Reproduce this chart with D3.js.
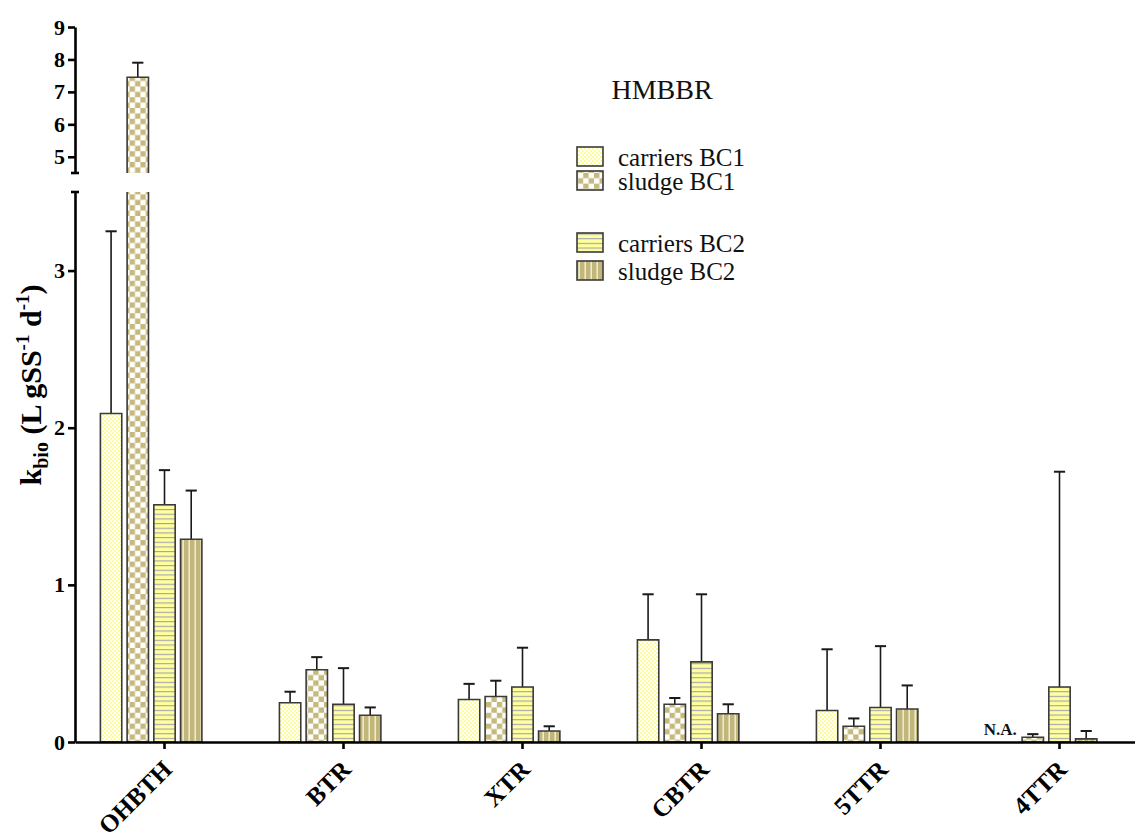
<!DOCTYPE html>
<html>
<head>
<meta charset="utf-8">
<script src="https://cdn.jsdelivr.net/npm/d3@7"></script>
<style>
  html, body { margin: 0; padding: 0; background: #fff; }
  svg text { font-family: "Liberation Serif", "Times New Roman", Times, serif; }
</style>
</head>
<body>
<svg id="chart" width="1135" height="835"></svg>
<script>
// ---- data -------------------------------------------------------------
const categories = ["OHBTH", "BTR", "XTR", "CBTR", "5TTR", "4TTR"];
const seriesNames = ["carriers BC1", "sludge BC1", "carriers BC2", "sludge BC2"];

// mean kbio values (L gSS-1 d-1); null = not available
const carriersBC1 = [2.09, 0.25, 0.27, 0.65, 0.20, null];
const sludgeBC1   = [7.45, 0.46, 0.29, 0.24, 0.10, 0.03];
const carriersBC2 = [1.51, 0.24, 0.35, 0.51, 0.22, 0.35];
const sludgeBC2   = [1.29, 0.17, 0.07, 0.18, 0.21, 0.02];

// standard deviations (upper error bars)
const carriersBC1Err = [1.16, 0.07, 0.10, 0.29, 0.39, null];
const sludgeBC1Err   = [0.45, 0.08, 0.10, 0.04, 0.05, 0.02];
const carriersBC2Err = [0.22, 0.23, 0.25, 0.43, 0.39, 1.37];
const sludgeBC2Err   = [0.31, 0.05, 0.03, 0.06, 0.15, 0.05];

// broken y axis: lower and upper segments
const lowerDomain = [0, 3.5];
const upperDomain = [4.5, 9];
const lowerTicks = [0, 1, 2, 3];
const upperTicks = [5, 6, 7, 8, 9];

const chartTitle = "HMBBR";
const naLabel = "N.A.";

// ---- layout -------------------------------------------------------------
const svg = d3.select("#chart");
const axisX = 75;
const baseY = 742;
const lowerTopY = 192;
const upperBottomY = 173;
const upperTopY = 27;

const means = [carriersBC1, sludgeBC1, carriersBC2, sludgeBC2];
const errs = [carriersBC1Err, sludgeBC1Err, carriersBC2Err, sludgeBC2Err];
const patternIds = ["pat-c1", "pat-s1", "pat-c2", "pat-s2"];

const yLow = d3.scaleLinear().domain(lowerDomain).range([baseY, lowerTopY]);
const yHigh = d3.scaleLinear().domain(upperDomain).range([upperBottomY, upperTopY]);

const x = d3.scaleBand()
  .domain(categories)
  .range([axisX, axisX + 6 * 179])
  .paddingInner(0.254)
  .paddingOuter(0.127);

// five slots per group, the third one centred on the tick; the fifth stays empty
const xs = d3.scaleBand()
  .domain(d3.range(5))
  .range([0, x.bandwidth()])
  .paddingInner(0.2)
  .paddingOuter(0.1);

// ---- fill patterns ------------------------------------------------------
const defs = svg.append("defs");

// carriers BC1: fine pale-yellow dots on white
const p1 = defs.append("pattern").attr("id", patternIds[0])
  .attr("patternUnits", "userSpaceOnUse").attr("width", 4).attr("height", 4);
p1.append("rect").attr("width", 4).attr("height", 4).attr("fill", "#ffffff");
p1.append("rect").attr("x", 0).attr("y", 0).attr("width", 2).attr("height", 2).attr("fill", "#fdfd9c");
p1.append("rect").attr("x", 2).attr("y", 2).attr("width", 2).attr("height", 2).attr("fill", "#fdfd9c");

// sludge BC1: khaki checkerboard
const c = 5.4;
const p2 = defs.append("pattern").attr("id", patternIds[1])
  .attr("patternUnits", "userSpaceOnUse").attr("width", 2 * c).attr("height", 2 * c);
p2.append("rect").attr("width", 2 * c).attr("height", 2 * c).attr("fill", "#ffffff");
p2.append("rect").attr("x", 0).attr("y", 0).attr("width", c).attr("height", c).attr("fill", "#c6b97e");
p2.append("rect").attr("x", c).attr("y", c).attr("width", c).attr("height", c).attr("fill", "#c6b97e");

// carriers BC2: yellow with thin horizontal grey lines
const hp = 4.67;
const p3 = defs.append("pattern").attr("id", patternIds[2])
  .attr("patternUnits", "userSpaceOnUse").attr("width", 10).attr("height", hp);
p3.append("rect").attr("width", 10).attr("height", hp).attr("fill", "#ffff9c");
p3.append("rect").attr("x", 0).attr("y", 0).attr("width", 10).attr("height", 1.1).attr("fill", "#a3a2b4");

// sludge BC2: khaki with thin vertical light lines
const p4 = defs.append("pattern").attr("id", patternIds[3])
  .attr("patternUnits", "userSpaceOnUse").attr("width", 6).attr("height", 10);
p4.append("rect").attr("width", 6).attr("height", 10).attr("fill", "#c2b77a");
p4.append("rect").attr("x", 2.5).attr("y", 0).attr("width", 1.4).attr("height", 10).attr("fill", "#f3efdc");

// ---- bars ---------------------------------------------------------------
// split a bar into the pieces that fall on each axis segment
function pieces(v) {
  if (v <= lowerDomain[1]) {
    return [{ top: yLow(v), bottom: yLow(0), openTop: false, openBottom: false }];
  }
  return [
    { top: yLow(lowerDomain[1]), bottom: yLow(0), openTop: true, openBottom: false },
    { top: yHigh(v), bottom: yHigh(upperDomain[0]), openTop: false, openBottom: true }
  ];
}
function valueY(v) {
  return v <= lowerDomain[1] ? yLow(v) : yHigh(v);
}

const barData = [];
categories.forEach((cat, ci) => {
  means.forEach((arr, si) => {
    barData.push({ cat, si, v: arr[ci], e: errs[si][ci] });
  });
});

const gBars = svg.append("g");
const barStroke = "#3a3a3a";

barData.forEach(d => {
  const x0 = x(d.cat) + xs(d.si);
  const w = xs.bandwidth();
  if (d.v == null) {
    gBars.append("text")
      .attr("x", x0 + w)
      .attr("y", baseY - 7)
      .attr("text-anchor", "end")
      .attr("font-size", 17)
      .attr("font-weight", "bold")
      .attr("fill", "#111")
      .text(naLabel);
    return;
  }
  // error bar (upper only) drawn first so the bar sits on top of it
  if (d.e != null) {
    const yTop = valueY(d.v + d.e);
    const yBar = valueY(d.v);
    gBars.append("line")
      .attr("x1", x0 + w / 2).attr("x2", x0 + w / 2)
      .attr("y1", yBar).attr("y2", yTop)
      .attr("stroke", "#1a1a1a").attr("stroke-width", 1.6);
    gBars.append("line")
      .attr("x1", x0 + w / 2 - 5.6).attr("x2", x0 + w / 2 + 5.6)
      .attr("y1", yTop).attr("y2", yTop)
      .attr("stroke", "#1a1a1a").attr("stroke-width", 2);
  }
  pieces(d.v).forEach(p => {
    gBars.append("rect")
      .attr("x", x0).attr("y", p.top)
      .attr("width", w).attr("height", p.bottom - p.top)
      .attr("fill", `url(#${patternIds[d.si]})`);
    const path = d3.path();
    // left side, top, right side, bottom — open edges skipped at the break
    path.moveTo(x0, p.bottom);
    path.lineTo(x0, p.top);
    if (p.openTop) path.moveTo(x0 + w, p.top); else path.lineTo(x0 + w, p.top);
    path.lineTo(x0 + w, p.bottom);
    if (!p.openBottom) path.lineTo(x0, p.bottom);
    gBars.append("path")
      .attr("d", path.toString())
      .attr("fill", "none")
      .attr("stroke", barStroke)
      .attr("stroke-width", 1.6);
  });
});

// ---- axes ---------------------------------------------------------------
const axisStroke = 2.6;

function styleYAxis(g) {
  g.select(".domain").attr("stroke", "#000").attr("stroke-width", axisStroke);
  g.selectAll(".tick line").attr("stroke", "#000").attr("stroke-width", axisStroke);
  g.selectAll(".tick text")
    .attr("font-size", 22)
    .attr("font-weight", "bold")
    .attr("fill", "#000")
    .attr("font-family", "'Liberation Serif', 'Times New Roman', serif");
}

svg.append("g")
  .attr("transform", `translate(${axisX},0)`)
  .call(d3.axisLeft(yLow).tickValues(lowerTicks).tickFormat(d3.format("d"))
    .tickSize(7).tickSizeOuter(0).tickPadding(3))
  .call(styleYAxis);

svg.append("g")
  .attr("transform", `translate(${axisX},0)`)
  .call(d3.axisLeft(yHigh).tickValues(upperTicks).tickFormat(d3.format("d"))
    .tickSize(7).tickSizeOuter(0).tickPadding(3))
  .call(styleYAxis);

// short caps marking the axis break
[yLow(lowerDomain[1]), yHigh(upperDomain[0])].forEach(yy => {
  svg.append("line")
    .attr("x1", axisX - 4).attr("x2", axisX + 4)
    .attr("y1", yy).attr("y2", yy)
    .attr("stroke", "#000").attr("stroke-width", axisStroke);
});

const gx = svg.append("g")
  .attr("transform", `translate(0,${baseY})`)
  .call(d3.axisBottom(x).tickSize(7).tickSizeOuter(0));
gx.select(".domain").attr("stroke", "#000").attr("stroke-width", axisStroke);
gx.selectAll(".tick line").attr("stroke", "#000").attr("stroke-width", axisStroke);
gx.selectAll(".tick text")
  .attr("font-size", 25)
  .attr("font-weight", "bold")
  .attr("fill", "#000")
  .attr("font-family", "'Liberation Serif', 'Times New Roman', serif")
  .attr("text-anchor", "end")
  .attr("x", 0).attr("y", 0).attr("dy", 0)
  .attr("transform", "translate(9,29) rotate(-45)");

// ---- y axis title -------------------------------------------------------
const yTitle = svg.append("text")
  .attr("transform", "translate(41,385) rotate(-90)")
  .attr("text-anchor", "middle")
  .attr("font-size", 30)
  .attr("font-weight", "bold")
  .attr("fill", "#000");
yTitle.append("tspan").text("k");
yTitle.append("tspan").attr("font-size", 20).attr("dy", 7).text("bio");
yTitle.append("tspan").attr("dy", -7).text(" (L gSS");
yTitle.append("tspan").attr("font-size", 19).attr("dy", -12).text("-1");
yTitle.append("tspan").attr("dy", 12).text(" d");
yTitle.append("tspan").attr("font-size", 19).attr("dy", -12).text("-1");
yTitle.append("tspan").attr("dy", 12).text(")");

// ---- title and legend ---------------------------------------------------
svg.append("text")
  .attr("x", 662).attr("y", 99)
  .attr("text-anchor", "middle")
  .attr("font-size", 28)
  .attr("fill", "#111")
  .text(chartTitle);

const legendRowTop = [147, 171, 233, 261];
const legend = svg.append("g");
seriesNames.forEach((name, i) => {
  const top = legendRowTop[i];
  legend.append("rect")
    .attr("x", 577).attr("y", top)
    .attr("width", 26).attr("height", 19)
    .attr("fill", `url(#${patternIds[i]})`)
    .attr("stroke", barStroke).attr("stroke-width", 1.6);
  legend.append("text")
    .attr("x", 618).attr("y", top + 19)
    .attr("font-size", 25)
    .attr("fill", "#111")
    .text(name);
});
</script>
</body>
</html>
